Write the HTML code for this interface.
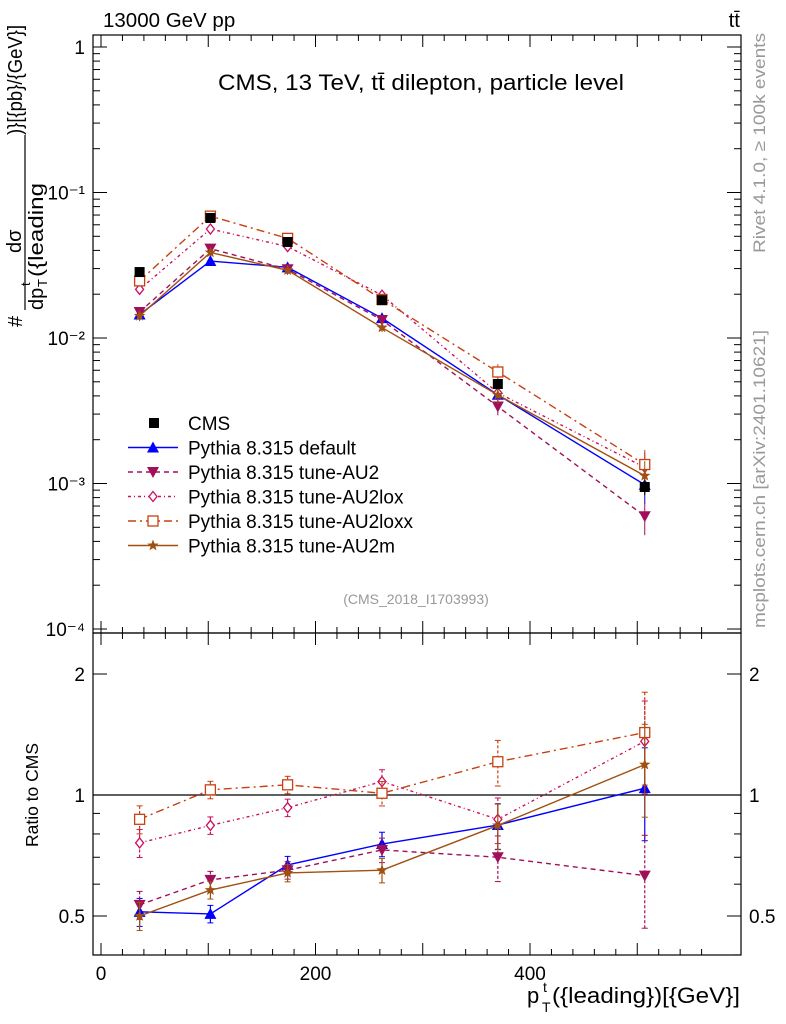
<!DOCTYPE html>
<html><head><meta charset="utf-8"><style>
html,body{margin:0;padding:0;background:#fff;}
svg{display:block;font-family:"Liberation Sans",sans-serif;}
</style></head><body>
<svg id="chart" width="786" height="1024" viewBox="0 0 786 1024">
<g id="axes"></g><g id="marks"></g>
<text x="103" y="27" font-size="20.5">13000 GeV pp</text>
<text x="740" y="27" font-size="20.5" text-anchor="end">tt̄</text>
<text x="218" y="90" font-size="22" textLength="406" lengthAdjust="spacingAndGlyphs">CMS, 13 TeV, tt̄ dilepton, particle level</text>
<text x="416" y="604" font-size="14" fill="#999" text-anchor="middle">(CMS_2018_I1703993)</text>
<text transform="translate(765,253) rotate(-90)" font-size="17" fill="#999" textLength="220" lengthAdjust="spacingAndGlyphs">Rivet 4.1.0, ≥ 100k events</text>
<text transform="translate(765,628) rotate(-90)" font-size="17" fill="#999" textLength="298" lengthAdjust="spacingAndGlyphs">mcplots.cern.ch [arXiv:2401.10621]</text>
<g transform="translate(25,327) rotate(-90)">
<text x="0" y="-3" font-size="20">#</text>
<text x="74" y="-4" font-size="20">dσ</text>
<line x1="17" y1="0" x2="192" y2="0" stroke="#000" stroke-width="1.2"/>
<text x="17" y="18" font-size="20">dp</text>
<text x="40" y="22" font-size="13">T</text>
<text x="41" y="5" font-size="13">t</text>
<text x="50" y="18" font-size="20" textLength="94" lengthAdjust="spacingAndGlyphs">({leading</text>
<text x="192" y="-3" font-size="20" textLength="110" lengthAdjust="spacingAndGlyphs">)}[{pb}/{GeV}]</text>
</g>
<text transform="translate(38,795) rotate(-90)" font-size="17.5" text-anchor="middle">Ratio to CMS</text>
<g>
<text x="527" y="1003" font-size="22">p</text>
<text x="542" y="1012" font-size="14">T</text>
<text x="543" y="992" font-size="14">t</text>
<text x="552" y="1003" font-size="22" textLength="188" lengthAdjust="spacingAndGlyphs">({leading})[{GeV}]</text>
</g>
<g id="legend"></g>
</svg>
<script>
const xVals=[36,102,174,262,370,507];
const cmsVals=[0.0284,0.0668,0.0457,0.0182,0.00483,0.000946];
const cmsErr=[0.04,0.04,0.04,0.05,0.08,0.12];
const defaultVals=[0.0145,0.0338,0.0306,0.0137,0.00407,0.00098];
const au2Vals=[0.0151,0.0411,0.0297,0.0133,0.00338,0.000596];
const au2loxVals=[0.0216,0.0561,0.0425,0.0197,0.0042,0.00129];
const au2loxxVals=[0.0247,0.0688,0.0484,0.0184,0.00584,0.00135];
const au2mVals=[0.0142,0.0387,0.0292,0.0118,0.00406,0.00113];
const defaultRatio=[0.512,0.506,0.67,0.755,0.842,1.04];
const au2Ratio=[0.533,0.615,0.65,0.73,0.70,0.63];
const au2loxRatio=[0.76,0.84,0.93,1.08,0.87,1.36];
const au2loxxRatio=[0.87,1.03,1.06,1.01,1.21,1.43];
const au2mRatio=[0.50,0.58,0.64,0.65,0.84,1.19];
const ratioErr=[0.08,0.05,0.05,0.07,0.13,0.26];
const xTicks=[0,200,400];
const yMainTicks=[1,0.1,0.01,0.001,0.0001];
const yMainLabels=["1","10⁻¹","10⁻²","10⁻³","10⁻⁴"];
const yRatioTicks=[0.5,1,2];

const NS="http://www.w3.org/2000/svg";
const L=93,R=741,T=35,M=633,B=955;
const xs=v=>101+v*1.0725;
const ym=v=>47-145.5*Math.log10(v);
const yr=v=>795-121*Math.log2(v);
const axes=document.getElementById('axes'),marks=document.getElementById('marks'),leg=document.getElementById('legend');
function el(tag,at,parent){const e=document.createElementNS(NS,tag);for(const k in at)e.setAttribute(k,at[k]);(parent||marks).appendChild(e);return e;}
function txt(x,y,s,size,anchor,parent){const t=el('text',{x:x,y:y,'font-size':size,'text-anchor':anchor||'start'},parent||axes);t.textContent=s;return t;}

let f1=el('rect',{x:L,y:T,width:R-L,height:M-T,fill:'none',stroke:'#000','stroke-width':1.2},axes);


let f2=el('rect',{x:L,y:M,width:R-L,height:B-M,fill:'none',stroke:'#000','stroke-width':1.2},axes);


for(let v=0;v<=560;v+=20){const x=xs(v);if(x<L||x>R)continue;const big=v%100===0;const h=big?12:6;
 [[T,1],[M,-1],[M,1],[B,-1]].forEach(([y0,d])=>el('line',{x1:x,y1:y0,x2:x,y2:y0+d*h,stroke:'#000'},axes));}
xTicks.forEach(v=>{const t=txt(xs(v),980,String(v),19,'middle');});
for(let e=-4;e<=0;e++){for(let m=1;m<10;m++){const v=m*Math.pow(10,e);const y=ym(v);if(y<T||y>M)continue;const h=m===1?14:7;
 el('line',{x1:L,y1:y,x2:L+h,y2:y,stroke:'#000'},axes);el('line',{x1:R,y1:y,x2:R-h,y2:y,stroke:'#000'},axes);}}
yMainTicks.forEach((v,i)=>{const t=txt(L-8,ym(v)+7,yMainLabels[i],19,'end');});
[0.4,0.5,0.6,0.7,0.8,0.9,1,2].forEach(v=>{const y=yr(v);const h=(v===0.5||v===1||v===2)?14:7;
 el('line',{x1:L,y1:y,x2:L+h,y2:y,stroke:'#000'},axes);el('line',{x1:R,y1:y,x2:R-h,y2:y,stroke:'#000'},axes);});
yRatioTicks.forEach(v=>{const a=txt(L-8,yr(v)+7,String(v),19,'end');
 const b=txt(R+8,yr(v)+7,String(v),19,'start');});
let ref=el('line',{x1:L,y1:yr(1),x2:R,y2:yr(1),stroke:'#000','stroke-width':1.2},axes);



function marker(type,x,y,c,g){
 if(type==='sq')return el('rect',{x:x-5,y:y-5,width:10,height:10,fill:'#000'},g);
 if(type==='tri')return el('polygon',{points:`${x},${y-6} ${x-6},${y+5} ${x+6},${y+5}`,fill:c},g);
 if(type==='itri')return el('polygon',{points:`${x},${y+6} ${x-6},${y-5} ${x+6},${y-5}`,fill:c},g);
 if(type==='dia')return el('polygon',{points:`${x},${y-5} ${x-4},${y} ${x},${y+5} ${x+4},${y}`,fill:'#fff',stroke:c,'stroke-width':1.3},g);
 if(type==='osq')return el('rect',{x:x-5,y:y-5,width:10,height:10,fill:'#fff',stroke:c,'stroke-width':1.3},g);
 if(type==='star'){let p=[];for(let i=0;i<10;i++){const r=i%2?2.5:6,a=-Math.PI/2+i*Math.PI/5;p.push((x+r*Math.cos(a)).toFixed(1)+','+(y+r*Math.sin(a)).toFixed(1));}return el('polygon',{points:p.join(' '),fill:c},g);}
}
const series=[
 {name:'default',vals:defaultVals,ratio:defaultRatio,c:'#0000ff',dash:'',m:'tri',label:'Pythia 8.315 default'},
 {name:'au2',vals:au2Vals,ratio:au2Ratio,c:'#a0105a',dash:'5,4',m:'itri',label:'Pythia 8.315 tune-AU2'},
 {name:'au2lox',vals:au2loxVals,ratio:au2loxRatio,c:'#cc1060',dash:'3,3,1,3',m:'dia',label:'Pythia 8.315 tune-AU2lox'},
 {name:'au2loxx',vals:au2loxxVals,ratio:au2loxxRatio,c:'#c84010',dash:'8,4,2,4',m:'osq',label:'Pythia 8.315 tune-AU2loxx'},
 {name:'au2m',vals:au2mVals,ratio:au2mRatio,c:'#a05010',dash:'',m:'star',label:'Pythia 8.315 tune-AU2m'}];
series.forEach(s=>{
 const g=el('g',{});
 
 
 const pm=xVals.map((v,i)=>xs(v)+','+ym(s.vals[i])).join(' ');
 el('polyline',{points:pm,fill:'none',stroke:s.c,'stroke-width':1.4,'stroke-dasharray':s.dash},g);
 const pr=xVals.map((v,i)=>xs(v)+','+yr(s.ratio[i])).join(' ');
 el('polyline',{points:pr,fill:'none',stroke:s.c,'stroke-width':1.4,'stroke-dasharray':s.dash},g);
 xVals.forEach((v,i)=>{
  const e=ratioErr[i];
  el('line',{x1:xs(v),y1:yr(s.ratio[i]*(1+e)),x2:xs(v),y2:yr(s.ratio[i]*(1-e)),stroke:s.c,'stroke-width':1.2,'stroke-dasharray':s.dash?'3,2':''},g);
  el('line',{x1:xs(v)-3,y1:yr(s.ratio[i]*(1+e)),x2:xs(v)+3,y2:yr(s.ratio[i]*(1+e)),stroke:s.c},g);
  el('line',{x1:xs(v)-3,y1:yr(s.ratio[i]*(1-e)),x2:xs(v)+3,y2:yr(s.ratio[i]*(1-e)),stroke:s.c},g);
  el('line',{x1:xs(v),y1:ym(s.vals[i]*(1+e)),x2:xs(v),y2:ym(s.vals[i]*(1-e)),stroke:s.c},g);
  const p1=marker(s.m,xs(v),ym(s.vals[i]),s.c,g);
  
  
  const p2=marker(s.m,xs(v),yr(s.ratio[i]),s.c,g);
  
  
 });
});
const cg=el('g',{});


xVals.forEach((v,i)=>{
 el('line',{x1:xs(v),y1:ym(cmsVals[i]*(1+cmsErr[i])),x2:xs(v),y2:ym(cmsVals[i]*(1-cmsErr[i])),stroke:'#000'},cg);
 const p=marker('sq',xs(v),ym(cmsVals[i]),'#000',cg);
 
 
});
const ly0=423,ldy=24.5;
let le=el('g',{},leg);


marker('sq',154,ly0,'#000',le);
txt(188,ly0+7,'CMS',19,'start',le);
series.forEach((s,i)=>{
 const y=ly0+(i+1)*ldy;
 const g=el('g',{},leg);
 
 
 el('line',{x1:128,y1:y,x2:178,y2:y,stroke:s.c,'stroke-width':1.4,'stroke-dasharray':s.dash},g);
 marker(s.m,153,y,s.c,g);
 txt(188,y+7,s.label,19,'start',g);
});
</script>
</body></html>
